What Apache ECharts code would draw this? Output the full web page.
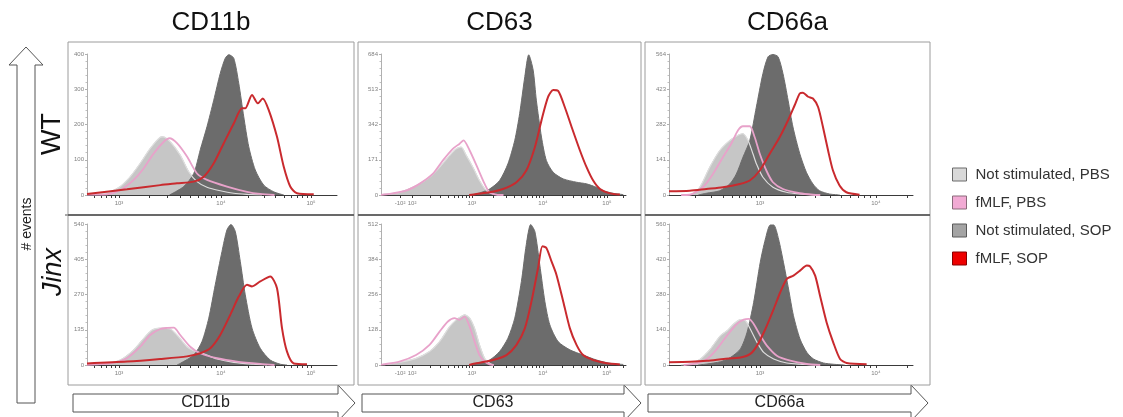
<!DOCTYPE html>
<html>
<head>
<meta charset="utf-8">
<script src="https://cdn.jsdelivr.net/npm/echarts@6/dist/echarts.min.js"></script>
<style>
  html, body { margin: 0; padding: 0; background: #fff; }
  #chart { width: 1123px; height: 417px; }
</style>
</head>
<body>
<div id="chart"></div>
<script>
// Markers (columns), genotypes (rows) and the four overlaid conditions
const markers = ['CD11b', 'CD63', 'CD66a'];
const genotypes = ['WT', 'Jinx'];
const conditions = ['Not stimulated, PBS', 'fMLF, PBS', 'Not stimulated, SOP', 'fMLF, SOP'];

// Top of each count axis (# events), rows x columns
const countMax = [[400, 684, 564], [540, 512, 560]];

// Fluorescence axis decades (position on a 0-100 display scale) and their labels
const cd11bDecades = [12.8, 53.6, 89.6];
const cd11bDecadeLabels = ['10³', '10⁴', '10⁵'];
const cd63Decades = [3.7, 7.8, 12.7, 37.1, 66.1, 92.2];
const cd63DecadeLabels = ['-10³', '-10²', '10²', '10³', '10⁴', '10⁵'];
const cd66aDecades = [37.3, 84.8];
const cd66aDecadeLabels = ['10³', '10⁴'];

// Histograms: [fluorescence (display scale), # events]
// CD11b, WT
const cd11bWtPbs = [[0,1],[5.3,3],[9.3,9],[13.3,24],[17.3,52],[21.3,90],[25.3,132],[29.3,164],[30.4,165],[33.3,151],[37.3,113],[40.7,66],[44,38],[48,22],[53.3,12],[58.7,5],[64,2],[70,0]];
const cd11bWtFmlfPbs = [[0,1],[8,2],[13.3,14],[18.7,43],[22.7,76],[26.7,118],[30.7,151],[33,161],[36,147],[40,109],[44,61],[48,43],[56,24],[64,9],[69.3,3],[75,0]];
const cd11bWtSop = [[33,0],[38.7,24],[42.7,61],[45.3,128],[48,194],[50.7,269],[53.3,345],[55.3,388],[56.7,398],[58.7,388],[60.7,317],[62.7,222],[64.7,137],[67.3,71],[70.7,28],[74.7,9],[78.7,0]];
const cd11bWtFmlfSop = [[0,3],[16,16],[29.3,28],[36,33],[42.7,38],[46.7,52],[50.7,90],[54.7,147],[58.7,203],[62,246],[63.3,246],[66,284],[68.3,260],[70.3,274],[72.7,241],[76,165],[78.7,80],[81.3,24],[84,5],[90.7,2]];
// CD63, WT
const cd63WtPbs = [[0,1],[0.7,2],[7.5,13],[14.3,45],[19.8,86],[23.9,135],[28,192],[30.7,224],[32.7,232],[34.8,192],[37.5,135],[40.2,70],[43,21],[45.7,5],[48,0]];
const cd63WtFmlfPbs = [[0,1],[3.4,5],[10.2,21],[15.7,54],[21.1,102],[25.2,167],[29.3,224],[32.1,249],[33.7,265],[36.2,216],[39.6,127],[42.3,54],[44.3,13],[47.1,2],[50,0]];
const cd63WtSop = [[36,0],[38.9,5],[44.3,29],[48.4,70],[51.8,151],[54.6,265],[56.6,395],[58.7,574],[60.3,680],[62.1,606],[63.4,460],[65.5,281],[67.5,167],[70.3,110],[74.4,78],[79.8,62],[83.9,54],[88,37],[90.7,21],[94.8,8],[98.9,2]];
const cd63WtFmlfSop = [[36,0],[38.9,5],[44.3,13],[49.8,29],[55.3,62],[59.3,119],[62.8,232],[65.5,362],[68.2,476],[70.3,509],[72.3,505],[75,427],[77.8,330],[81.2,216],[83.9,135],[86.6,70],[89.4,29],[93.5,8],[97.5,2]];
// CD66a, WT
const cd66aWtPbs = [[5,0],[8.5,1],[12.6,31],[16.7,111],[20.8,178],[24.9,218],[28.3,239],[30.3,245],[32.4,218],[34.4,165],[35.8,125],[38.5,71],[42.6,31],[48.1,11],[53.6,4],[60,0]];
const cd66aWtFmlfPbs = [[5,0],[8.5,1],[13.9,31],[18,84],[22.1,151],[25.5,205],[28.3,259],[30.3,275],[33.1,275],[35.1,232],[37.2,165],[39.9,98],[42.6,51],[46.7,24],[53.6,7],[59,1],[62,0]];
const cd66aWtSop = [[12,0],[15.3,7],[20.8,17],[24.9,44],[27.6,84],[30.3,151],[33.1,218],[35.8,352],[38.5,486],[40.6,553],[42.6,562],[44.7,553],[46.7,486],[48.8,379],[50.8,272],[53.6,165],[56.3,91],[59,44],[61.7,17],[65.8,4],[70,0]];
const cd66aWtFmlfSop = [[0,15],[8.5,17],[15.3,24],[22.1,31],[29,44],[33.1,58],[37.2,98],[41.3,165],[45.4,232],[48.8,299],[51.5,359],[53.6,406],[54.9,409],[57,393],[59,386],[61.1,352],[63.1,272],[65.2,178],[67.2,98],[69.9,38],[72.7,11],[78.1,1]];
// CD11b, Jinx
const cd11bJinxPbs = [[0,1],[6.7,3],[13.3,19],[18.7,58],[22.7,102],[26,134],[29.3,141],[33.3,138],[36,115],[40,70],[42.7,55],[46.7,43],[52,23],[58.7,10],[66.7,3],[72,0]];
const cd11bJinxFmlfPbs = [[0,1],[9.3,6],[16,26],[21.3,70],[25.3,115],[29.3,138],[32,142],[34.7,143],[37.3,115],[41.3,70],[45.3,45],[52,26],[60,13],[69.3,4],[75,0]];
const cd11bJinxSop = [[36,0],[37.3,6],[42.7,38],[46,90],[48.7,179],[51.3,307],[54,435],[56,518],[57.6,538],[59.3,512],[61.3,397],[63.3,269],[66,141],[69.3,64],[73.3,19],[77.3,3],[80,0]];
const cd11bJinxFmlfSop = [[0,6],[16,13],[29.3,23],[40,33],[45.3,45],[49.3,64],[53.3,115],[57.3,192],[60.7,262],[64,307],[66,301],[69.3,320],[73.3,339],[76,294],[78,141],[80,51],[82.7,6],[88,3]];
// CD63, Jinx
const cd63JinxPbs = [[0,1],[2,2],[8.9,12],[14.3,24],[19.8,49],[23.9,85],[28,139],[30.7,164],[32.7,176],[34.1,182],[36.2,170],[38.2,133],[40.2,73],[42.3,24],[44.3,6],[46,0]];
const cd63JinxFmlfPbs = [[0,1],[0.7,2],[7.5,12],[14.3,36],[19.8,73],[23.9,121],[27.3,158],[30,170],[32.1,164],[34.1,176],[36.2,139],[38.2,85],[40.2,36],[42.3,12],[44.3,2],[46,0]];
const cd63JinxSop = [[36,0],[38.9,6],[44.3,18],[48.4,49],[51.8,97],[54.6,170],[57.3,303],[59.3,437],[61.1,510],[62.8,485],[64.8,364],[66.9,230],[68.9,146],[72.3,85],[77.1,55],[82.5,36],[88,18],[93.5,6],[98.9,2]];
const cd63JinxFmlfSop = [[36,0],[38.9,6],[45.7,18],[51.2,36],[55.3,73],[58.7,133],[61.4,230],[64.1,352],[65.9,431],[67.5,425],[69.6,376],[71.6,328],[74.4,230],[77.1,133],[79.8,73],[82.5,36],[86.6,18],[92.1,6],[97.5,2]];
// CD66a, Jinx
const cd66aJinxPbs = [[5,0],[8.8,4],[12.9,24],[17,64],[21.1,117],[23.8,136],[26.5,163],[29.3,180],[31.3,176],[33.3,143],[36.1,90],[38.8,50],[42.9,24],[48.3,8],[53.7,3],[60,0]];
const cd66aJinxFmlfPbs = [[6,0],[10.2,4],[15.6,24],[19.7,64],[23.8,117],[27.9,163],[30.6,180],[32.7,183],[34.7,163],[37.4,117],[40.1,77],[44.2,37],[49.7,17],[56.5,4],[62,0]];
const cd66aJinxSop = [[12,0],[15.6,4],[21.1,13],[25.2,30],[29.3,64],[32,130],[34.7,249],[37.4,408],[39.5,500],[41.5,556],[42.9,556],[44.9,500],[46.9,408],[49,302],[51,196],[53.7,103],[56.5,50],[59.2,24],[63.3,8],[67.3,3],[72,0]];
const cd66aJinxFmlfSop = [[0,11],[8.8,13],[15.6,17],[22.4,24],[29.3,30],[33.3,44],[36.1,77],[39.5,143],[42.9,222],[45.6,289],[48.3,342],[51,355],[53.7,375],[56.5,395],[57.8,392],[59.9,355],[61.9,275],[64.6,169],[67.3,90],[70.1,24],[72.8,8],[81,3]];

// ---------- layout ----------
const panels = [
  [[cd11bWtPbs, cd11bWtFmlfPbs, cd11bWtSop, cd11bWtFmlfSop],
   [cd63WtPbs, cd63WtFmlfPbs, cd63WtSop, cd63WtFmlfSop],
   [cd66aWtPbs, cd66aWtFmlfPbs, cd66aWtSop, cd66aWtFmlfSop]],
  [[cd11bJinxPbs, cd11bJinxFmlfPbs, cd11bJinxSop, cd11bJinxFmlfSop],
   [cd63JinxPbs, cd63JinxFmlfPbs, cd63JinxSop, cd63JinxFmlfSop],
   [cd66aJinxPbs, cd66aJinxFmlfPbs, cd66aJinxSop, cd66aJinxFmlfSop]]
];
const decades = [cd11bDecades, cd63Decades, cd66aDecades];
const decadeLabels = [cd11bDecadeLabels, cd63DecadeLabels, cd66aDecadeLabels];

const plotLeft = [87, 381, 669];
const plotWidth = [250, 245, 244];
const plotTop = [54, 224];
const plotHeight = 141;
const boxX = [[68, 354], [358, 641], [645, 930]];
const boxY = [[42, 215], [215, 385]];

const FONT = '"Liberation Sans", Arial, sans-serif';

// log-spaced minor ticks between two decade positions
function minorTicks(a, b) {
  const out = [];
  for (let k = 2; k <= 9; k++) out.push(a + (b - a) * Math.log10(k));
  return out;
}
// all tick positions of a column's fluorescence axis (positive decades get minor ticks)
function tickSet(col) {
  const d = decades[col];
  const p = col === 1 ? d.slice(2) : d;
  let t = d.slice();
  for (let i = 0; i + 1 < p.length; i++) t = t.concat(minorTicks(p[i], p[i + 1]));
  const span = p.length > 1 ? p[1] - p[0] : 47.5;
  if (col !== 1) t = t.concat(minorTicks(p[0] - span * 0.8, p[0]));
  t = t.concat(minorTicks(p[p.length - 1], p[p.length - 1] + span * 0.9));
  return t.filter(v => v >= 0 && v <= 100).sort((x, y) => x - y);
}

const styles = {
  pbsFill: '#c6c6c6',
  pbsEdge: '#dedede',
  sopFill: '#6c6c6c',
  pink: '#e8a2ca',
  red: '#c92a2e'
};

const grid = [], xAxis = [], yAxis = [], series = [];
for (let r = 0; r < 2; r++) {
  for (let c = 0; c < 3; c++) {
    const idx = r * 3 + c;
    grid.push({ left: plotLeft[c], top: plotTop[r], width: plotWidth[c], height: plotHeight });
    const majors = decades[c], labels = decadeLabels[c];
    xAxis.push({
      gridIndex: idx, type: 'value', min: 0, max: 100,
      splitLine: { show: false },
      axisLine: { lineStyle: { color: '#3a3a3a', width: 1 } },
      axisTick: { customValues: tickSet(c), length: 3, lineStyle: { color: '#3a3a3a' } },
      axisLabel: {
        customValues: majors, fontSize: 6, color: '#808080', margin: 5, fontFamily: FONT,
        formatter: v => { const i = majors.findIndex(m => Math.abs(m - v) < 1e-6); return i >= 0 ? labels[i] : ''; }
      }
    });
    yAxis.push({
      gridIndex: idx, type: 'value', min: 0, max: countMax[r][c], interval: countMax[r][c] / 4,
      splitLine: { show: false },
      axisLine: { show: true, lineStyle: { color: '#b0b0b0' } },
      axisTick: { show: true, length: 2, lineStyle: { color: '#b0b0b0' } },
      minorTick: { show: true, splitNumber: 5, length: 1.5, lineStyle: { color: '#c0c0c0' } },
      axisLabel: { fontSize: 6, color: '#808080', margin: 3, fontFamily: FONT }
    });
    const [pbs, fmlfPbs, sop, fmlfSop] = panels[r][c];
    const base = { type: 'line', xAxisIndex: idx, yAxisIndex: idx, symbol: 'none', smooth: 0.25, animation: false, silent: true };
    series.push(Object.assign({}, base, {
      name: conditions[0], data: pbs, z: 2,
      lineStyle: { color: styles.pbsFill, width: 1 }, itemStyle: { color: styles.pbsFill },
      areaStyle: { color: styles.pbsFill, opacity: 1 }
    }));
    series.push(Object.assign({}, base, {
      name: conditions[2], data: sop, z: 3,
      lineStyle: { color: styles.sopFill, width: 1 }, itemStyle: { color: styles.sopFill },
      areaStyle: { color: styles.sopFill, opacity: 1 }
    }));
    series.push(Object.assign({}, base, {
      name: conditions[0] + ' (outline)', data: pbs, z: 4,
      lineStyle: { color: styles.pbsEdge, width: 1.2 }, itemStyle: { color: styles.pbsEdge }
    }));
    series.push(Object.assign({}, base, {
      name: conditions[1], data: fmlfPbs, z: 5,
      lineStyle: { color: styles.pink, width: 1.8 }, itemStyle: { color: styles.pink }
    }));
    series.push(Object.assign({}, base, {
      name: conditions[3], data: fmlfSop, z: 6,
      lineStyle: { color: styles.red, width: 2 }, itemStyle: { color: styles.red }
    }));
  }
}

// ---------- decorations ----------
const graphic = [];
// panel frames
for (let r = 0; r < 2; r++) for (let c = 0; c < 3; c++) {
  graphic.push({
    type: 'rect', silent: true, z: 1,
    shape: { x: boxX[c][0], y: boxY[r][0], width: boxX[c][1] - boxX[c][0], height: boxY[r][1] - boxY[r][0] },
    style: { fill: 'none', stroke: '#9c9c9c', lineWidth: 1 }
  });
}
// row separators
for (let c = 0; c < 3; c++) {
  graphic.push({ type: 'line', silent: true, z: 1,
    shape: { x1: boxX[c][0], y1: boxY[1][0], x2: boxX[c][1], y2: boxY[1][0] },
    style: { stroke: '#505050', lineWidth: 1.5 } });
}
graphic.push({ type: 'line', silent: true, shape: { x1: 65, y1: boxY[1][0], x2: 68, y2: boxY[1][0] }, style: { stroke: '#505050', lineWidth: 1 } });
// column titles
markers.forEach((m, c) => {
  graphic.push({ type: 'text', silent: true, x: (boxX[c][0] + boxX[c][1]) / 2, y: 23,
    style: { text: m, font: '26px ' + FONT, fill: '#111', align: 'center', verticalAlign: 'middle' } });
});
// row labels
const rowCenter = [134, 272];
genotypes.forEach((g, r) => {
  graphic.push({ type: 'text', silent: true, x: 53, y: rowCenter[r], rotation: Math.PI / 2,
    style: { text: g, font: (r === 1 ? 'italic ' : '') + '27px ' + FONT, fill: '#111', align: 'center', verticalAlign: 'middle' } });
});
// vertical "# events" arrow
graphic.push({ type: 'polygon', silent: true,
  shape: { points: [[17, 403], [17, 65], [9, 65], [26, 47], [43, 65], [35, 65], [35, 403]] },
  style: { fill: '#fff', stroke: '#555', lineWidth: 1 } });
graphic.push({ type: 'text', silent: true, x: 27, y: 224, rotation: Math.PI / 2,
  style: { text: '# events', font: '14px ' + FONT, fill: '#222', align: 'center', verticalAlign: 'middle' } });
// horizontal marker arrows
const arrowX = [[73, 338, 355], [362, 624, 641], [648, 911, 928]];
markers.forEach((m, c) => {
  const [x0, xs, xt] = arrowX[c];
  graphic.push({ type: 'polygon', silent: true,
    shape: { points: [[x0, 394], [xs, 394], [xs, 385], [xt, 403], [xs, 421], [xs, 412], [x0, 412]] },
    style: { fill: '#fff', stroke: '#555', lineWidth: 1 } });
  graphic.push({ type: 'text', silent: true, x: (x0 + xs) / 2, y: 403,
    style: { text: m, font: '16px ' + FONT, fill: '#222', align: 'center', verticalAlign: 'middle' } });
});

const legendColors = [
  { color: '#d9d9d9', borderColor: '#6a6a6a', borderWidth: 1 },
  { color: '#f2aad4', borderColor: '#8a6a7a', borderWidth: 1 },
  { color: '#a4a4a4', borderColor: '#5a5a5a', borderWidth: 1 },
  { color: '#ee0000', borderColor: '#880000', borderWidth: 1 }
];

const chart = echarts.init(document.getElementById('chart'), null, { renderer: 'canvas' });
chart.setOption({
  backgroundColor: '#fff',
  animation: false,
  grid, xAxis, yAxis, series, graphic,
  legend: {
    orient: 'vertical', left: 947, top: 162,
    icon: 'rect', itemWidth: 14, itemHeight: 13, itemGap: 13,
    selectedMode: false,
    textStyle: { fontSize: 15, color: '#333', fontFamily: FONT, padding: [0, 0, 0, 4] },
    data: conditions.map((n, i) => ({ name: n, itemStyle: legendColors[i] }))
  }
});
</script>
</body>
</html>
